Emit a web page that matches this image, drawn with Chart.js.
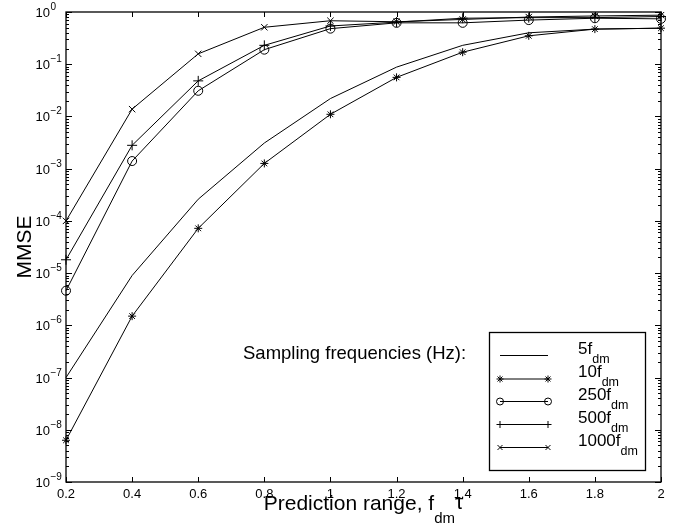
<!DOCTYPE html>
<html>
<head>
<meta charset="utf-8">
<script src="https://cdn.jsdelivr.net/npm/chart.js@4/dist/chart.umd.min.js"></script>
<style>
  body { margin: 0; background: #fff; }
  #c { display: block; }
</style>
</head>
<body>
<canvas id="c" width="683" height="527"></canvas>
<script>
// prediction range f_dm*tau
var ranges = [0.2, 0.4, 0.6, 0.8, 1.0, 1.2, 1.4, 1.6, 1.8, 2.0];

// MMSE for each sampling frequency
var mse5 = [1e-7, 9e-6, 2.6e-4, 3.1e-3, 0.022, 0.088, 0.23, 0.40, 0.47, 0.49];
var mse10 = [6.3e-9, 1.5e-6, 7.2e-5, 1.26e-3, 0.011, 0.056, 0.17, 0.35, 0.47, 0.49];
var mse250 = [4.6e-6, 1.4e-3, 0.031, 0.19, 0.48, 0.62, 0.62, 0.70, 0.76, 0.74];
var mse500 = [1.8e-5, 2.8e-3, 0.048, 0.23, 0.54, 0.64, 0.76, 0.78, 0.78, 0.82];
var mse1000 = [1e-4, 0.0138, 0.158, 0.51, 0.68, 0.65, 0.72, 0.80, 0.84, 0.87];

var seriesNames = ["5", "10", "250", "500", "1000"];
var xTicks = [0.2, 0.4, 0.6, 0.8, 1, 1.2, 1.4, 1.6, 1.8, 2];
var yExponents = [0, -1, -2, -3, -4, -5, -6, -7, -8, -9];

var FONT = "'Liberation Sans', Arial, Helvetica, sans-serif";

function pts(vals) {
    var out = [];
    for (var i = 0; i < ranges.length; i++) {
        out.push({x: ranges[i], y: vals[i]});
    }
    return out;
}

function ds(label, vals, style, radius) {
    return {
        label: label,
        data: pts(vals),
        borderColor: "#000",
        backgroundColor: "rgba(0,0,0,0)",
        borderWidth: 1,
        pointStyle: style,
        pointRadius: radius,
        pointBorderColor: "#000",
        pointBorderWidth: 1,
        pointBackgroundColor: "rgba(0,0,0,0)",
        tension: 0,
        clip: false
    };
}

// draw a marker the same way for the legend
function marker(ctx, style, x, y, r) {
    ctx.beginPath();
    if (style === "circle") {
        ctx.arc(x, y, r, 0, Math.PI * 2);
    } else if (style === "cross") {
        ctx.moveTo(x - r, y); ctx.lineTo(x + r, y);
        ctx.moveTo(x, y - r); ctx.lineTo(x, y + r);
    } else if (style === "crossRot") {
        var d = r * 0.7071;
        ctx.moveTo(x - d, y - d); ctx.lineTo(x + d, y + d);
        ctx.moveTo(x - d, y + d); ctx.lineTo(x + d, y - d);
    } else if (style === "star") {
        var e = r * 0.7071;
        ctx.moveTo(x - r, y); ctx.lineTo(x + r, y);
        ctx.moveTo(x, y - r); ctx.lineTo(x, y + r);
        ctx.moveTo(x - e, y - e); ctx.lineTo(x + e, y + e);
        ctx.moveTo(x - e, y + e); ctx.lineTo(x + e, y - e);
    }
    ctx.stroke();
}

var matlabAxes = {
    id: "matlabAxes",
    afterDraw: function (chart) {
        var ctx = chart.ctx;
        var a = chart.chartArea;
        var xs = chart.scales.x;
        var ys = chart.scales.y;
        ctx.save();
        ctx.strokeStyle = "#000";
        ctx.fillStyle = "#000";

        // box
        ctx.lineWidth = 1.3;
        ctx.strokeRect(a.left, a.top, a.right - a.left, a.bottom - a.top);

        // x ticks top and bottom
        ctx.lineWidth = 1;
        ctx.beginPath();
        for (var i = 0; i < xTicks.length; i++) {
            var px = Math.round(xs.getPixelForValue(xTicks[i])) + 0.5;
            ctx.moveTo(px, a.bottom); ctx.lineTo(px, a.bottom - 5);
            ctx.moveTo(px, a.top); ctx.lineTo(px, a.top + 5);
        }
        // y ticks left and right, with minor ones
        for (var k = 0; k < yExponents.length; k++) {
            var dec = Math.pow(10, yExponents[k]);
            var py = Math.round(ys.getPixelForValue(dec)) + 0.5;
            ctx.moveTo(a.left, py); ctx.lineTo(a.left + 6, py);
            ctx.moveTo(a.right, py); ctx.lineTo(a.right - 6, py);
            if (yExponents[k] > -9) {
                for (var m = 2; m <= 9; m++) {
                    var pm = Math.round(ys.getPixelForValue(dec / 10 * m)) + 0.5;
                    ctx.moveTo(a.left, pm); ctx.lineTo(a.left + 3, pm);
                    ctx.moveTo(a.right, pm); ctx.lineTo(a.right - 3, pm);
                }
            }
        }
        ctx.stroke();

        // x tick labels
        ctx.font = "13px " + FONT;
        ctx.textAlign = "center";
        ctx.textBaseline = "middle";
        for (var j = 0; j < xTicks.length; j++) {
            ctx.fillText(String(xTicks[j]), xs.getPixelForValue(xTicks[j]), a.bottom + 12);
        }

        // y tick labels 10^n
        for (var n = 0; n < yExponents.length; n++) {
            var yy = ys.getPixelForValue(Math.pow(10, yExponents[n]));
            ctx.font = "13px " + FONT;
            ctx.textAlign = "right";
            ctx.textBaseline = "alphabetic";
            ctx.fillText("10", 50, yy + 5);
            ctx.font = "10px " + FONT;
            ctx.textAlign = "left";
            ctx.fillText(String(yExponents[n]).replace("-", "\u2212"), 50.5, yy - 2);
        }

        // y title
        ctx.save();
        ctx.translate(31, (a.top + a.bottom) / 2);
        ctx.rotate(-Math.PI / 2);
        ctx.font = "21px " + FONT;
        ctx.textAlign = "center";
        ctx.textBaseline = "alphabetic";
        ctx.fillText("MMSE", 0, 0);
        ctx.restore();

        // x title with subscript
        var t1 = "Prediction range, f";
        var t2 = "dm";
        var t3 = "\u03c4";
        ctx.font = "21px " + FONT;
        var w1 = ctx.measureText(t1).width;
        var w3 = ctx.measureText(t3).width;
        ctx.font = "15px " + FONT;
        var w2 = ctx.measureText(t2).width;
        var x0 = (a.left + a.right) / 2 - (w1 + w2 + w3) / 2;
        ctx.textAlign = "left";
        ctx.font = "21px " + FONT;
        ctx.fillText(t1, x0, 510);
        ctx.fillText(t3, x0 + w1 + w2, 509);
        ctx.font = "15px " + FONT;
        ctx.fillText(t2, x0 + w1, 523);

        // legend
        ctx.font = "18.5px " + FONT;
        ctx.fillText("Sampling frequencies (Hz):", 243, 359);

        ctx.lineWidth = 1.3;
        ctx.strokeRect(489.5, 332.5, 156, 138);
        var rowY = [355.5, 379, 401.5, 424.5, 447.5];
        ctx.lineWidth = 1;
        for (var r = 0; r < chart.data.datasets.length; r++) {
            var d = chart.data.datasets[r];
            ctx.beginPath();
            ctx.moveTo(500, rowY[r]); ctx.lineTo(548, rowY[r]);
            ctx.stroke();
            if (d.pointRadius > 0) {
                marker(ctx, d.pointStyle, 500, rowY[r], 3.5);
                marker(ctx, d.pointStyle, 548, rowY[r], 3.5);
            }
            ctx.font = "17px " + FONT;
            ctx.fillText(seriesNames[r] + "f", 578, rowY[r] - 2);
            var wf = ctx.measureText(seriesNames[r] + "f").width;
            ctx.font = "12.5px " + FONT;
            ctx.fillText("dm", 578 + wf, rowY[r] + 7);
        }
        ctx.restore();
    }
};

new Chart(document.getElementById("c"), {
    type: "line",
    data: {
        datasets: [
            ds("5f_dm", mse5, "circle", 0),
            ds("10f_dm", mse10, "star", 4),
            ds("250f_dm", mse250, "circle", 4.5),
            ds("500f_dm", mse500, "cross", 5),
            ds("1000f_dm", mse1000, "crossRot", 4.5)
        ]
    },
    options: {
        responsive: false,
        animation: false,
        devicePixelRatio: 1,
        layout: { padding: { left: 66, right: 22, top: 12, bottom: 45 } },
        plugins: {
            legend: { display: false },
            tooltip: { enabled: false }
        },
        scales: {
            x: { type: "linear", min: 0.2, max: 2, display: false },
            y: { type: "logarithmic", min: 1e-9, max: 1, display: false }
        }
    },
    plugins: [matlabAxes]
});
</script>
</body>
</html>
